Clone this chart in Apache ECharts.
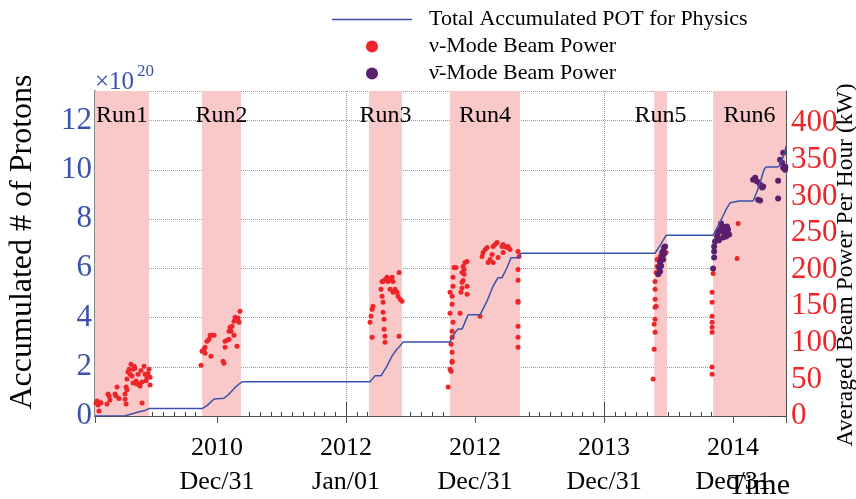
<!DOCTYPE html>
<html>
<head>
<meta charset="utf-8">
<script src="https://cdn.jsdelivr.net/npm/echarts@6/dist/echarts.min.js"></script>
<style>
  html, body { margin: 0; padding: 0; background: #fff; }
  #chart { width: 856px; height: 499px; }
</style>
</head>
<body>
<div id="chart"></div>
<script>
// x values are decimal years, POT in units of 1e20, beam power in kW
const runNames = ['Run1', 'Run2', 'Run3', 'Run4', 'Run5', 'Run6']
const runStart = [2010.054, 2010.884, 2012.178, 2012.806, 2014.388, 2014.845]
const runEnd = [2010.473, 2011.186, 2012.434, 2013.349, 2014.488, 2015.41]

const tickYears = [2011, 2012, 2013, 2014, 2015]
const tickLine1 = ['2010', '2012', '2012', '2013', '2014']
const tickLine2 = ['Dec/31', 'Jan/01', 'Dec/31', 'Dec/31', 'Dec/31']

const potTime = [2010.054, 2010.287, 2010.357, 2010.395, 2010.434, 2010.473, 2010.884, 2010.922, 2010.977,
    2011.054, 2011.093, 2011.140, 2011.171, 2011.194, 2012.186, 2012.225, 2012.271, 2012.318, 2012.357,
    2012.395, 2012.419, 2012.442, 2012.806, 2012.845, 2012.868, 2012.899, 2012.946, 2013.039, 2013.093,
    2013.140, 2013.178, 2013.209, 2013.248, 2013.279, 2013.333, 2013.357, 2014.395, 2014.434, 2014.481,
    2014.845, 2014.876, 2014.915, 2014.946, 2014.977, 2015.047, 2015.155, 2015.186, 2015.209, 2015.240,
    2015.256, 2015.341, 2015.357, 2015.380, 2015.403, 2015.41]
const potValue = [0, 0.01, 0.11, 0.17, 0.21, 0.30, 0.30, 0.42, 0.69,
    0.72, 0.89, 1.16, 1.30, 1.39, 1.39, 1.63, 1.63, 2.04, 2.44,
    2.72, 2.85, 3.01, 3.01, 3.39, 3.53, 3.53, 4.11, 4.11, 4.67,
    5.28, 5.62, 5.62, 6.03, 6.43, 6.43, 6.61, 6.61, 6.93, 7.34,
    7.34, 7.65, 8.05, 8.39, 8.66, 8.73, 8.73, 9.13, 9.47, 10.01,
    10.11, 10.11, 10.15, 10.42, 10.75, 10.96]

// neutrino mode beam power [time, kW]
const nuPoints = [
    // Run1
    [2010.062, 17.7], [2010.070, 20.4], [2010.078, 15.0], [2010.093, 17.7], [2010.085, 6.8], [2010.101, 18.0],
    [2010.147, 16.3], [2010.155, 30.0], [2010.163, 27.2], [2010.170, 22.0], [2010.209, 30.0], [2010.217, 27.2],
    [2010.225, 39.5], [2010.240, 24.0], [2010.287, 23.0], [2010.287, 30.0], [2010.295, 39.5], [2010.295, 16.3],
    [2010.302, 50.4], [2010.302, 36.0], [2010.310, 60.0], [2010.318, 64.0], [2010.326, 57.2], [2010.333, 70.8],
    [2010.341, 54.5], [2010.349, 64.0], [2010.349, 45.0], [2010.357, 68.1], [2010.364, 65.4], [2010.372, 47.7],
    [2010.380, 43.6], [2010.388, 57.2], [2010.395, 43.6], [2010.403, 40.9], [2010.411, 62.0], [2010.419, 46.3],
    [2010.419, 17.7], [2010.434, 68.1], [2010.442, 57.2], [2010.450, 48.0], [2010.457, 53.1], [2010.465, 58.0],
    [2010.473, 64.0], [2010.481, 53.1], [2010.481, 42.2],
    // Run2
    [2010.876, 69.5], [2010.884, 88.6], [2010.899, 91.3], [2010.907, 94.0], [2010.907, 85.8], [2010.922, 102.2],
    [2010.938, 104.9], [2010.946, 110.4], [2010.953, 81.7], [2010.961, 110.4], [2010.977, 110.4], [2011.047, 74.9],
    [2011.054, 72.2], [2011.062, 94.0], [2011.062, 102.2], [2011.078, 103.5], [2011.093, 104.9], [2011.093, 115.8],
    [2011.101, 121.3], [2011.109, 115.8], [2011.116, 122.6], [2011.132, 129.4], [2011.132, 110.4], [2011.140, 134.9],
    [2011.147, 132.2], [2011.155, 95.4], [2011.163, 133.5], [2011.171, 128.1], [2011.178, 143.1],
    // Run3
    [2012.186, 128.1], [2012.194, 136.2], [2012.202, 145.8], [2012.209, 149.9], [2012.202, 107.6], [2012.271, 173.0],
    [2012.279, 183.9], [2012.279, 163.5], [2012.287, 183.9], [2012.287, 155.3], [2012.287, 141.7], [2012.295, 132.2],
    [2012.295, 118.5], [2012.302, 186.6], [2012.302, 109.0], [2012.302, 100.8], [2012.318, 189.4], [2012.326, 183.9],
    [2012.341, 186.6], [2012.341, 173.0], [2012.357, 189.4], [2012.364, 183.9], [2012.364, 168.9], [2012.380, 173.0],
    [2012.395, 168.9], [2012.403, 163.5], [2012.411, 196.2], [2012.411, 109.0], [2012.419, 159.4], [2012.434, 156.7],
    // Run4
    [2012.791, 39.5], [2012.806, 64.0], [2012.814, 61.3], [2012.822, 73.6], [2012.822, 74.9], [2012.822, 87.2],
    [2012.814, 98.1], [2012.822, 107.6], [2012.822, 115.8], [2012.829, 128.1], [2012.806, 140.3], [2012.822, 152.6],
    [2012.822, 163.5], [2012.806, 168.9], [2012.829, 177.1], [2012.829, 189.4], [2012.837, 203.0], [2012.853, 203.0],
    [2012.884, 140.3], [2012.891, 168.9], [2012.899, 175.0], [2012.899, 182.6], [2012.907, 185.0], [2012.899, 196.2],
    [2012.915, 200.0], [2012.907, 204.4], [2012.922, 209.8], [2012.938, 211.2], [2012.915, 193.5], [2012.938, 177.1],
    [2012.938, 166.2], [2013.039, 136.2], [2013.054, 218.0], [2013.062, 223.4], [2013.078, 227.5], [2013.093, 230.2],
    [2013.101, 209.8], [2013.116, 213.9], [2013.132, 220.7], [2013.140, 209.8], [2013.140, 231.6], [2013.155, 234.3],
    [2013.171, 237.1], [2013.178, 216.6], [2013.209, 231.6], [2013.217, 234.3], [2013.217, 223.4], [2013.233, 231.6],
    [2013.248, 230.2], [2013.256, 231.6], [2013.271, 227.5], [2013.333, 224.8], [2013.341, 218.0], [2013.333, 200.3],
    [2013.333, 185.3], [2013.333, 156.7], [2013.333, 155.3], [2013.333, 122.6], [2013.333, 107.6], [2013.333, 94.0],
    // Run5
    [2014.380, 50.4], [2014.388, 91.3], [2014.395, 114.4], [2014.388, 125.3], [2014.395, 132.2], [2014.395, 148.5],
    [2014.403, 149.9], [2014.395, 159.4], [2014.395, 173.0], [2014.395, 183.9], [2014.403, 196.2], [2014.411, 204.4],
    [2014.411, 213.9], [2014.434, 218.0], [2014.481, 223.4],
    // Run6
    [2014.837, 57.2], [2014.837, 66.8], [2014.837, 114.4], [2014.837, 121.3], [2014.837, 128.1], [2014.837, 136.2],
    [2014.837, 155.3], [2014.837, 168.9], [2014.845, 194.8], [2015.031, 215.3], [2015.039, 262.9]
]

// anti-neutrino mode beam power [time, kW]
const nubarPoints = [
    // Run5
    [2014.419, 193.5], [2014.426, 203.0], [2014.434, 209.8], [2014.434, 197.5], [2014.442, 213.9], [2014.442, 205.0],
    [2014.450, 218.0], [2014.450, 223.4], [2014.457, 224.8], [2014.457, 213.9], [2014.457, 220.7], [2014.465, 230.2],
    [2014.465, 222.0], [2014.473, 231.6],
    // Run6
    [2014.845, 201.6], [2014.853, 216.6], [2014.853, 224.8], [2014.853, 231.6], [2014.860, 238.4], [2014.876, 245.2],
    [2014.884, 250.7], [2014.891, 240.0], [2014.899, 254.8], [2014.907, 262.9], [2014.915, 258.9], [2014.922, 254.8],
    [2014.922, 243.9], [2014.930, 250.0], [2014.938, 257.5], [2014.946, 245.2], [2014.953, 258.9], [2014.961, 254.8],
    [2014.969, 248.0], [2015.155, 322.9], [2015.171, 325.6], [2015.186, 320.2], [2015.194, 295.6], [2015.209, 316.1],
    [2015.209, 294.3], [2015.225, 312.0], [2015.233, 313.4], [2015.349, 321.5], [2015.349, 297.0], [2015.364, 350.1],
    [2015.380, 346.0], [2015.388, 339.2], [2015.388, 359.7], [2015.403, 336.5], [2015.405, 340.6]
]

const serif = 'Liberation Serif'
const blue = '#3a52ad'
const red = '#ee2528'
const purple = '#5b1f6e'

const chart = echarts.init(document.getElementById('chart'))

chart.setOption({
    animation: false,
    textStyle: { fontFamily: serif },
    grid: { left: 95, right: 70, top: 91, bottom: 82 },
    legend: {
        left: 332,
        top: 6,
        orient: 'vertical',
        padding: 0,
        itemGap: 0,
        itemWidth: 80,
        itemHeight: 12,
        textStyle: { fontFamily: serif, fontSize: 22, color: '#000', lineHeight: 27, padding: [0, 0, 0, 12] },
        data: [
            { name: 'Total Accumulated POT for Physics', icon: 'path://M0 0H80V1.5H0Z' },
            { name: 'ν-Mode Beam Power', icon: 'circle' },
            { name: 'ν̄-Mode Beam Power', icon: 'circle' }
        ]
    },
    xAxis: [
        {
            type: 'value',
            min: 2010.054,
            max: 2015.41,
            splitNumber: 5,
            axisLine: { lineStyle: { color: '#333', width: 1 } },
            axisTick: { inside: true, length: 14, lineStyle: { color: '#444' } },
            minorTick: { show: true, splitNumber: 12, length: 4, lineStyle: { color: '#444' } },
            splitLine: { show: true, lineStyle: { type: 'dotted', color: '#999' } },
            axisLabel: {
                margin: 15,
                fontFamily: serif,
                fontSize: 26,
                lineHeight: 34,
                color: '#000',
                formatter: (v) => {
                    const i = tickYears.indexOf(Math.round(v * 1000) / 1000)
                    return i < 0 ? '' : tickLine1[i] + '\n' + tickLine2[i]
                }
            }
        },
        {
            type: 'value',
            position: 'top',
            min: 2010.054,
            max: 2015.41,
            splitNumber: 5,
            axisLine: { lineStyle: { color: '#555' } },
            axisTick: { inside: true, length: 7, lineStyle: { color: '#555' } },
            axisLabel: { show: false },
            splitLine: { show: false }
        }
    ],
    yAxis: [
        {
            type: 'value',
            min: 0,
            max: 13.2,
            interval: 2,
            axisLine: { show: true, lineStyle: { color: '#888', width: 2 } },
            axisTick: { inside: true, length: 16, lineStyle: { color: '#444' } },
            minorTick: { show: true, splitNumber: 4, length: 8, lineStyle: { color: '#444' } },
            splitLine: { show: true, lineStyle: { type: 'dotted', color: '#999' } },
            axisLabel: {
                margin: 3,
                fontFamily: serif,
                fontSize: 31,
                color: blue,
                padding: [12, 0, 0, 0],
                showMaxLabel: false
            }
        },
        {
            type: 'value',
            min: 0,
            max: 444,
            interval: 50,
            position: 'right',
            axisLine: { show: true, lineStyle: { color: '#555' } },
            axisTick: { inside: true, length: 16, lineStyle: { color: '#444' } },
            splitLine: { show: false },
            axisLabel: {
                margin: 5,
                fontFamily: serif,
                fontSize: 31,
                color: red,
                padding: [10, 0, 0, 0],
                showMaxLabel: false
            }
        }
    ],
    series: [
        {
            name: 'runs',
            type: 'line',
            z: -1,
            data: [],
            markArea: {
                silent: true,
                itemStyle: { color: '#f9c9c9' },
                label: {
                    position: 'insideTop',
                    distance: 13,
                    fontFamily: serif,
                    fontSize: 24,
                    color: '#000'
                },
                data: runNames.map((n, i) => [
                    { name: n, xAxis: runStart[i] },
                    { xAxis: runEnd[i] }
                ])
            }
        },
        {
            name: 'Total Accumulated POT for Physics',
            type: 'line',
            yAxisIndex: 0,
            symbol: 'none',
            z: 3,
            lineStyle: { color: blue, width: 1.5 },
            itemStyle: { color: blue },
            data: potTime.map((t, i) => [t, potValue[i]])
        },
        {
            name: 'ν-Mode Beam Power',
            type: 'scatter',
            yAxisIndex: 1,
            symbolSize: 5,
            itemStyle: { color: red, opacity: 1 },
            data: nuPoints
        },
        {
            name: 'ν̄-Mode Beam Power',
            type: 'scatter',
            yAxisIndex: 1,
            symbolSize: 6,
            itemStyle: { color: purple, opacity: 1 },
            data: nubarPoints
        }
    ],
    graphic: [
        {
            type: 'text',
            x: 23,
            y: 242,
            rotation: Math.PI / 2,
            style: { text: 'Accumulated # of Protons', font: '32px "Liberation Serif"', fill: '#000', align: 'center', verticalAlign: 'middle' }
        },
        {
            type: 'text',
            x: 95,
            y: 82,
            style: { text: '×10', font: '25px "Liberation Serif"', fill: blue, align: 'left', verticalAlign: 'middle' }
        },
        {
            type: 'text',
            x: 137,
            y: 72,
            style: { text: '20', font: '17px "Liberation Serif"', fill: blue, align: 'left', verticalAlign: 'middle' }
        },
        {
            type: 'text',
            x: 846,
            y: 265,
            z: 100,
            rotation: Math.PI / 2,
            style: { text: 'Averaged Beam Power Per Hour (kW)', font: '23.5px "Liberation Serif"', fill: '#000', align: 'center', verticalAlign: 'middle' }
        },
        {
            type: 'text',
            x: 790,
            y: 486,
            style: { text: 'Time', font: '30px "Liberation Serif"', fill: '#000', align: 'right', verticalAlign: 'middle' }
        }
    ]
})
</script>
</body>
</html>
